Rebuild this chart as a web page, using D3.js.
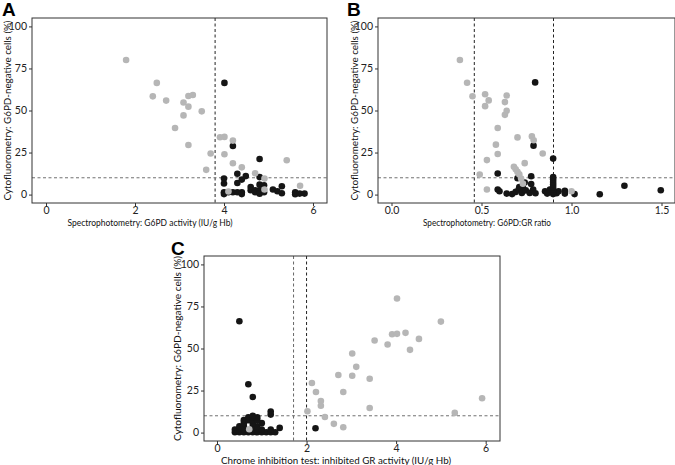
<!DOCTYPE html>
<html><head><meta charset="utf-8">
<script src="https://cdn.jsdelivr.net/npm/d3@7"></script>
<style>body{margin:0;background:#fff}svg{display:block}</style>
</head><body>
<svg id="chart" width="675" height="465"></svg>
<script>
// ---------- DATA ----------
// Panel A: x = G6PD activity (IU/g Hb), y = G6PD-negative cells (%)
const aGray = [[1.80,80],[2.49,66.4],[2.40,58.4],[2.70,55.9],[3.09,54.8],[3.20,58.6],[3.30,59.2],[3.20,52.3],[3.09,47.1],[3.50,49.5],[2.90,39.6],[3.20,29.5],[3.70,24.4],[3.60,14.7],[3.91,34.1],[4.01,34.3],[4.20,32.1],[4.01,24.0],[4.20,18.6],[4.40,16.2],[4.70,12.7],[5.41,20.4],[4.91,9.5],[4.91,3.0],[4.10,1.8],[5.71,5.3]];
const aBlack = [[4.01,66.4],[4.20,28.9],[4.80,21.2],[4.0,9.6],[4.0,6.6],[4.0,1.4],[4.0,0.3],[4.1,1.4],[4.2,1.4],[4.3,1.4],[4.4,1.4],[4.4,0.3],[4.30,12.4],[4.30,6.9],[4.40,8.9],[4.49,11],[4.60,4.5],[4.60,2.6],[4.70,2.6],[4.70,1.4],[4.80,10.4],[4.80,5.9],[4.80,2.6],[4.80,0.5],[4.90,5.5],[4.90,1.4],[5.10,3],[5.20,2],[5.30,5],[5.30,0.8],[5.60,1.4],[5.60,0.2],[5.70,0.6],[5.81,0.6]];
// Panel B: x = G6PD:GR ratio
const bGray = [[0.38,80],[0.42,66.5],[0.45,58.5],[0.52,59.7],[0.52,52.6],[0.54,56],[0.63,55],[0.64,58.9],[0.64,49.8],[0.63,47.4],[0.59,39.6],[0.58,29.7],[0.59,24.1],[0.53,20.5],[0.49,11.9],[0.53,3],[0.70,34],[0.78,34.6],[0.79,32.3],[0.84,24.4],[0.74,18.7],[0.68,16.5],[0.69,15],[0.70,13.5],[0.71,12],[0.72,9.5],[0.73,6.5],[1.0,2]];
const bBlack = [[0.798,66.7],[0.789,29.1],[0.898,21.4],[0.59,12.5],[0.70,9.7],[0.776,10.9],[0.776,6.3],[0.74,7.2],[0.71,4.5],[0.73,4],[0.59,3],[0.60,2],[0.64,0.6],[0.67,0.3],[0.69,1.6],[0.707,3.2],[0.724,1],[0.746,2.5],[0.768,1],[0.787,3],[0.80,0.8],[0.853,2],[0.865,0.6],[0.88,3],[0.917,0.8],[0.928,2],[0.963,2.2],[0.963,0.6],[1.017,0.3],[1.157,0.2],[1.294,5.3],[1.496,2.6],[0.898,0.3],[0.898,1.5],[0.898,3],[0.898,4.5],[0.898,6],[0.898,7.5],[0.898,9],[0.898,10.5]];
// Panel C: x = inhibited GR activity (IU/g Hb)
const cGray = [[4.02,79.7],[5.0,66],[3.91,58.5],[4.02,58.7],[4.21,59.3],[3.52,54.8],[3.81,52.4],[4.51,55.7],[4.31,49.2],[3.02,47],[3.11,39.1],[2.71,34.2],[3.02,33.8],[3.41,32],[2.12,29.5],[2.21,24.1],[2.82,24.1],[2.32,18.8],[2.32,16],[5.92,20.4],[5.31,11.7],[3.41,14.6],[2.02,12.7],[2.41,9.3],[2.61,5.2],[2.82,3.2],[0.72,2]];
const cBlack = [[0.5,66.2],[0.7,28.7],[0.8,21.2],[1.2,12.5],[1.2,10.7],[2.2,2.6],[1.4,2.8],
  [0.4,0.2],[0.5,0.2],[0.6,0.2],[0.7,0.2],[0.8,0.2],[0.9,0.2],[1.0,0.2],[1.1,0.2],[1.2,0.2],[1.3,0.2],
  [0.4,1.8],[0.5,1.8],[0.6,1.8],[0.8,1.8],[0.9,1.8],[1.0,1.8],[1.2,1.8],
  [0.5,3.8],[0.6,3.8],[0.8,3.8],[0.9,3.8],
  [0.6,5.6],[0.8,5.6],[1.0,5.6],
  [0.6,7.4],[0.7,7.4],[0.8,7.4],[0.9,7.4],
  [0.7,9.1],[0.8,9.1],[0.9,9.1],[0.8,10]];
const yTicks = [0,25,50,75,100];
const aTicks = [0,2,4,6];
const bTicks = [0,0.5,1.0,1.5];
const cTicks = [0,2,4,6];
const aCut = [3.8], bCut = [0.46,0.9], cCut = [1.71,2.0], yCut = 10;
const yTitle = "Cytofluorometry: G6PD-negative cells (%)";

// ---------- DRAW ----------
const svg = d3.select("#chart");
const FONT = "Lato, 'Open Sans', sans-serif";
const GRAY = "#b6b6b6", BLACK = "#151515";

function panel(o){
  const x = d3.scaleLinear().domain(o.xdom).range([o.l,o.r]);
  const y = d3.scaleLinear().domain([-5,105]).range([o.b,o.t]);
  const g = svg.append("g");
  const ax = g.append("g").attr("transform",`translate(0,${o.b})`)
    .call(d3.axisBottom(x).tickValues(o.ticks).tickSize(3).tickPadding(0.5).tickFormat(o.fmt));
  const ay = g.append("g").attr("transform",`translate(${o.l},0)`)
    .call(d3.axisLeft(y).tickValues(yTicks).tickSize(3).tickPadding(2));
  [ax,ay].forEach(a=>{
    a.select(".domain").remove();
    a.selectAll("line").attr("stroke","#333");
    a.selectAll("text").attr("fill","#222").style("font-family",FONT).style("font-size","10.5px");
  });
  o.cuts.forEach((c,i)=>{
    g.append("line").attr("x1",x(c)).attr("x2",x(c)).attr("y1",o.t).attr("y2",o.b)
      .attr("stroke",o.cutCol[i]).attr("stroke-width",1).attr("stroke-dasharray","3,2.5");
  });
  g.append("line").attr("x1",o.l).attr("x2",o.r).attr("y1",y(yCut)).attr("y2",y(yCut))
    .attr("stroke","#707070").attr("stroke-width",1).attr("stroke-dasharray","3,2.5");
  g.append("g").selectAll("circle").data(o.black).join("circle")
    .attr("cx",d=>x(d[0])).attr("cy",d=>y(d[1])).attr("r",3.3).attr("fill",BLACK);
  g.append("g").selectAll("circle").data(o.gray).join("circle")
    .attr("cx",d=>x(d[0])).attr("cy",d=>y(d[1])).attr("r",3.3).attr("fill",GRAY);
  g.append("rect").attr("x",o.l).attr("y",o.t).attr("width",o.r-o.l).attr("height",o.b-o.t)
    .attr("fill","none").attr("stroke","#333").attr("stroke-width",1);
  g.append("text").attr("x",o.xtX).attr("y",o.b+22.8).attr("text-anchor","middle")
    .style("font-family",FONT).style("font-size","10px").attr("fill","#111")
    .attr("textLength",o.xtW).attr("lengthAdjust","spacingAndGlyphs").text(o.xtitle);
  g.append("text").attr("transform",`translate(${o.ytX},${(o.t+o.b)/2}) rotate(-90)`)
    .attr("text-anchor","middle").attr("dy","0.35em")
    .style("font-family",FONT).style("font-size","10px").attr("fill","#111")
    .attr("textLength",o.ytW).attr("lengthAdjust","spacingAndGlyphs").text(yTitle);
  g.append("text").attr("x",o.labX).attr("y",o.labY).text(o.label)
    .style("font-family","'Liberation Sans', Arial, sans-serif").style("font-weight","bold")
    .style("font-size","19px").attr("fill","#000");
}

panel({l:32,r:327,t:18,b:203,xdom:[-0.315,6.315],ticks:aTicks,fmt:d3.format("d"),
  cuts:aCut,cutCol:["#222"],gray:aGray,black:aBlack,
  xtitle:"Spectrophotometry: G6PD activity (IU/g Hb)",xtX:150,xtW:165,ytX:7,ytW:180,
  label:"A",labX:2,labY:16});
panel({l:378,r:675,t:18,b:203,xdom:[-0.075,1.575],ticks:bTicks,fmt:d3.format(".1f"),
  cuts:bCut,cutCol:["#222","#222"],gray:bGray,black:bBlack,
  xtitle:"Spectrophotometry: G6PD:GR ratio",xtX:487,xtW:128,ytX:354,ytW:180,
  label:"B",labX:347,labY:16});
panel({l:204,r:500,t:256,b:441,xdom:[-0.29,6.32],ticks:cTicks,fmt:d3.format("d"),
  cuts:cCut,cutCol:["#666","#222"],gray:cGray,black:cBlack,
  xtitle:"Chrome inhibition test: inhibited GR activity (IU/g Hb)",xtX:336,xtW:230,ytX:177,ytW:185,
  label:"C",labX:171,labY:255});
</script>
</body></html>
